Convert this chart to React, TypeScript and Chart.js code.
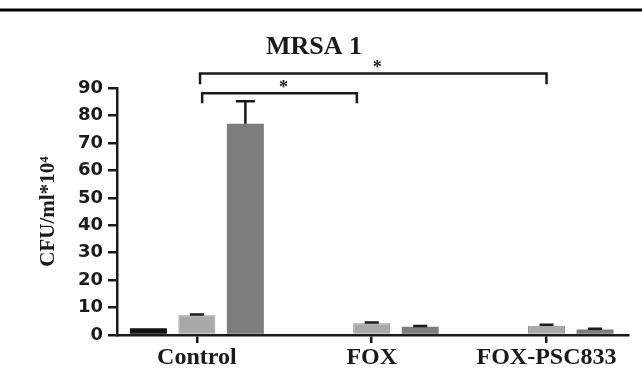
import React, { useEffect, useRef } from 'react';
import { Chart, registerables } from 'chart.js';

Chart.register(...registerables);

const categories = ['Control', 'FOX', 'FOX-PSC833'];
const seriesBlack = [2.5, 0, 0];
const seriesLight = [7.2, 4.3, 3.4];
const seriesDark = [77, 3.0, 2.0];
const errBlack = [0, 0, 0];
const errLight = [0.3, 0.3, 0.3];
const errDark = [8.2, 0.3, 0.3];
const yTickValues = [0, 10, 20, 30, 40, 50, 60, 70, 80, 90];
const chartTitle = 'MRSA 1';
const yTitle = 'CFU/ml*10⁴';
// significance brackets: from/to in category units, y in value units
const brackets = [
  { from: 0.018, to: 2.0, y: 95.4, legY: 91.4, label: '*' },
  { from: 0.03, to: 0.915, y: 88.2, legY: 84.5, label: '*' },
];

const INK = '#1a1a1a';

const extrasPlugin = {
  id: 'extras',
  beforeDraw(chart: any) {
    const ctx = chart.ctx;
    ctx.save();
    ctx.fillStyle = '#000';
    ctx.fillRect(0, 8.5, chart.width, 3);
    ctx.restore();
  },
  afterDatasetsDraw(chart: any) {
    const ctx = chart.ctx;
    const yScale = chart.scales.y;
    const xScale = chart.scales.x;
    const errs = [errBlack, errLight, errDark];
    ctx.save();
    ctx.strokeStyle = INK;
    ctx.lineWidth = 2.5;
    chart.data.datasets.forEach((ds: any, di: number) => {
      const meta = chart.getDatasetMeta(di);
      meta.data.forEach((bar: any, i: number) => {
        const e = errs[di][i];
        const v = ds.data[i].y;
        if (!e || !v) return;
        const yTop = yScale.getPixelForValue(v);
        const yErr = yScale.getPixelForValue(v + e);
        const cap = e > 2 ? 19 : 14;
        ctx.beginPath();
        ctx.moveTo(bar.x, yTop);
        ctx.lineTo(bar.x, yErr);
        ctx.moveTo(bar.x - cap / 2, yErr);
        ctx.lineTo(bar.x + cap / 2, yErr);
        ctx.stroke();
      });
    });
    // brackets
    ctx.lineWidth = 2.5;
    ctx.fillStyle = INK;
    ctx.font = 'bold 18px "Liberation Serif"';
    ctx.textAlign = 'center';
    ctx.textBaseline = 'middle';
    brackets.forEach((b) => {
      const x1 = xScale.getPixelForValue(b.from);
      const x2 = xScale.getPixelForValue(b.to);
      const y = yScale.getPixelForValue(b.y);
      const yl = yScale.getPixelForValue(b.legY);
      ctx.beginPath();
      ctx.moveTo(x1, yl);
      ctx.lineTo(x1, y);
      ctx.lineTo(x2, y);
      ctx.lineTo(x2, yl);
      ctx.stroke();
      ctx.fillText(b.label, (x1 + x2) / 2 + 4, y - 5);
    });
    ctx.restore();
  },
};

export default function App() {
  const ref = useRef<HTMLCanvasElement | null>(null);
  useEffect(() => {
    if (!ref.current) return;
    const toPts = (arr: number[]) => arr.map((v, i) => ({ x: i, y: v }));
    const chart = new Chart(ref.current, {
      type: 'bar',
      data: {
        datasets: [
          { label: 'A', data: toPts(seriesBlack), backgroundColor: '#111111', borderWidth: 0 },
          { label: 'B', data: toPts(seriesLight), backgroundColor: '#a9a9a9', borderColor: '#939393', borderWidth: 1 },
          { label: 'C', data: toPts(seriesDark), backgroundColor: '#7d7d7d', borderWidth: 0 },
        ],
      },
      options: {
        responsive: false,
        animation: false,
        datasets: { bar: { categoryPercentage: 0.832, barPercentage: 0.763 } },
        layout: { padding: { left: 0, right: 14, top: 0, bottom: 0 } },
        plugins: {
          legend: { display: false },
          tooltip: { enabled: false },
          title: {
            display: true,
            text: chartTitle,
            color: INK,
            font: { family: '"Liberation Serif"', size: 26, weight: 'bold' },
            padding: { top: 32, bottom: 25 },
          },
        },
        scales: {
          x: {
            type: 'linear',
            offset: false,
            min: -0.457,
            max: 2.466,
            afterBuildTicks: (axis: any) => {
              axis.ticks = categories.map((_, i) => ({ value: i }));
            },
            afterFit: (s: any) => { s.height = 44; },
            grid: { display: true, offset: false, drawOnChartArea: false, drawTicks: true, tickLength: 8, color: INK, lineWidth: 2.5 },
            border: { display: true, color: INK, width: 2.5 },
            ticks: {
              color: INK,
              padding: 0,
              autoSkip: false,
              maxRotation: 0,
              font: { family: '"Liberation Serif"', size: 24, weight: 'bold' },
              callback: (v: any) => categories[Math.round(Number(v))] ?? '',
            },
          },
          y: {
            min: 0,
            max: 90,
            afterBuildTicks: (axis: any) => {
              axis.ticks = yTickValues.map((v) => ({ value: v }));
            },
            afterFit: (s: any) => { s.width = 117; },
            grid: { display: true, drawOnChartArea: false, drawTicks: true, tickLength: 9, color: INK, lineWidth: 2.5 },
            border: { display: true, color: INK, width: 2.5 },
            ticks: {
              color: INK,
              padding: 5,
              font: { family: '"DejaVu Sans"', size: 18, weight: 'bold' },
            },
            title: {
              display: true,
              text: yTitle,
              color: INK,
              font: { family: '"Liberation Serif"', size: 21, weight: 'bold' },
              padding: { top: 36, bottom: 0 },
            },
          },
        },
      },
      plugins: [extrasPlugin],
    } as any);
    return () => chart.destroy();
  }, []);
  return (
    <div style={{ position: 'fixed', left: 0, top: 0, width: 642, height: 379, background: '#fff' }}>
      <canvas ref={ref} width={642} height={379} />
    </div>
  );
}
